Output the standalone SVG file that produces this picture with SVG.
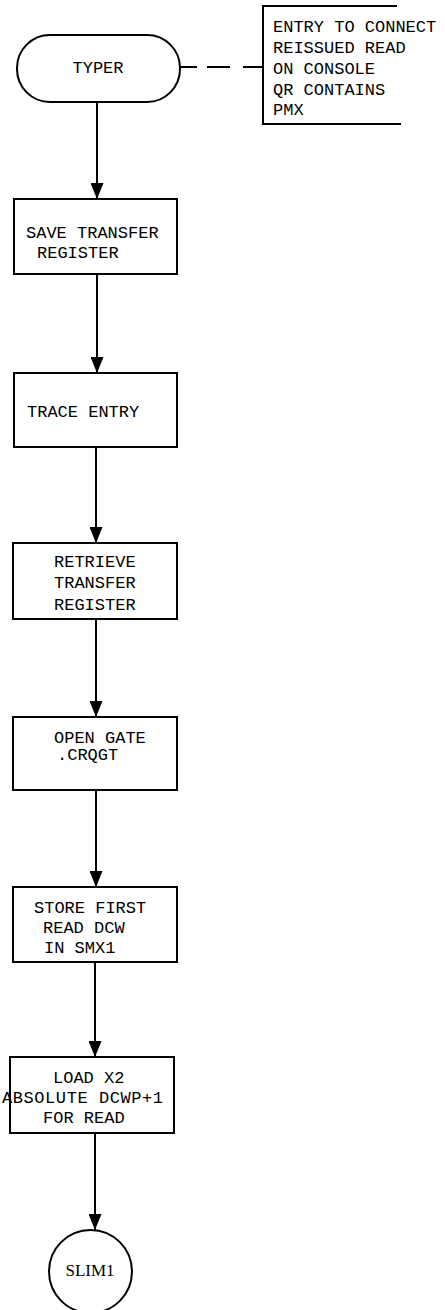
<svg xmlns="http://www.w3.org/2000/svg" width="445" height="1310" viewBox="0 0 445 1310">
<style>
.shape{fill:#fff;stroke:#000;stroke-width:2}
.t{font-family:"Liberation Mono","Courier New",monospace;font-size:17px;fill:#000}
.s{font-family:"Liberation Serif","Times New Roman",serif;font-size:17px;fill:#000}
.c{stroke:#000;stroke-width:2;fill:none}
</style>
<defs>
<marker id="ah" markerUnits="userSpaceOnUse" markerWidth="16" markerHeight="13" refX="16" refY="6.5" orient="auto">
<path d="M0,0 L16,6.5 L0,13 Z" fill="#000"/>
</marker>
</defs>
<rect width="445" height="1310" fill="#fff"/>
<g id="connectors">
<line class="c" x1="97" y1="102" x2="97" y2="199" marker-end="url(#ah)"/>
<line class="c" x1="97" y1="274" x2="97" y2="373" marker-end="url(#ah)"/>
<line class="c" x1="96" y1="447" x2="96" y2="543" marker-end="url(#ah)"/>
<line class="c" x1="96" y1="619" x2="96" y2="717" marker-end="url(#ah)"/>
<line class="c" x1="96" y1="790" x2="96" y2="887" marker-end="url(#ah)"/>
<line class="c" x1="95" y1="962" x2="95" y2="1057" marker-end="url(#ah)"/>
<line class="c" x1="95" y1="1133" x2="95" y2="1230" marker-end="url(#ah)"/>
<line class="c" x1="180" y1="67" x2="263" y2="67" stroke-dasharray="17 10 23 13 20"/>
</g>
<g id="typer">
<rect class="shape" x="17" y="35" width="163" height="67" rx="33" ry="33"/>
<text class="t" x="98" y="73" text-anchor="middle">TYPER</text>
</g>
<g id="note">
<path class="c" d="M397,6 H263 V124 H401"/>
<text class="t" x="273" y="32">ENTRY TO CONNECT</text>
<text class="t" x="273" y="53">REISSUED READ</text>
<text class="t" x="273" y="74">ON CONSOLE</text>
<text class="t" x="273" y="95">QR CONTAINS</text>
<text class="t" x="273" y="115">PMX</text>
</g>
<g id="save">
<rect class="shape" x="14" y="199" width="163" height="75"/>
<text class="t" x="26" y="238">SAVE TRANSFER</text>
<text class="t" x="37" y="258">REGISTER</text>
</g>
<g id="trace">
<rect class="shape" x="14" y="373" width="163" height="74"/>
<text class="t" x="27" y="417">TRACE ENTRY</text>
</g>
<g id="retrieve">
<rect class="shape" x="13" y="543" width="164" height="76"/>
<text class="t" x="54" y="567">RETRIEVE</text>
<text class="t" x="54" y="588">TRANSFER</text>
<text class="t" x="54" y="610">REGISTER</text>
</g>
<g id="opengate">
<rect class="shape" x="13" y="717" width="164" height="73"/>
<text class="t" x="54" y="743">OPEN GATE</text>
<text class="t" x="57" y="760">.CRQGT</text>
</g>
<g id="store">
<rect class="shape" x="13" y="887" width="164" height="75"/>
<text class="t" x="34" y="913">STORE FIRST</text>
<text class="t" x="43" y="933">READ DCW</text>
<text class="t" x="44" y="953">IN SMX1</text>
</g>
<g id="load">
<rect class="shape" x="10" y="1057" width="164" height="76"/>
<text class="t" x="53" y="1083">LOAD X2</text>
<text class="t" x="2" y="1103" textLength="161">ABSOLUTE DCWP+1</text>
<text class="t" x="43" y="1123">FOR READ</text>
</g>
<g id="slim1">
<circle class="shape" cx="90.5" cy="1271.5" r="41.5"/>
<text class="s" x="90" y="1276" text-anchor="middle">SLIM1</text>
</g>
</svg>
